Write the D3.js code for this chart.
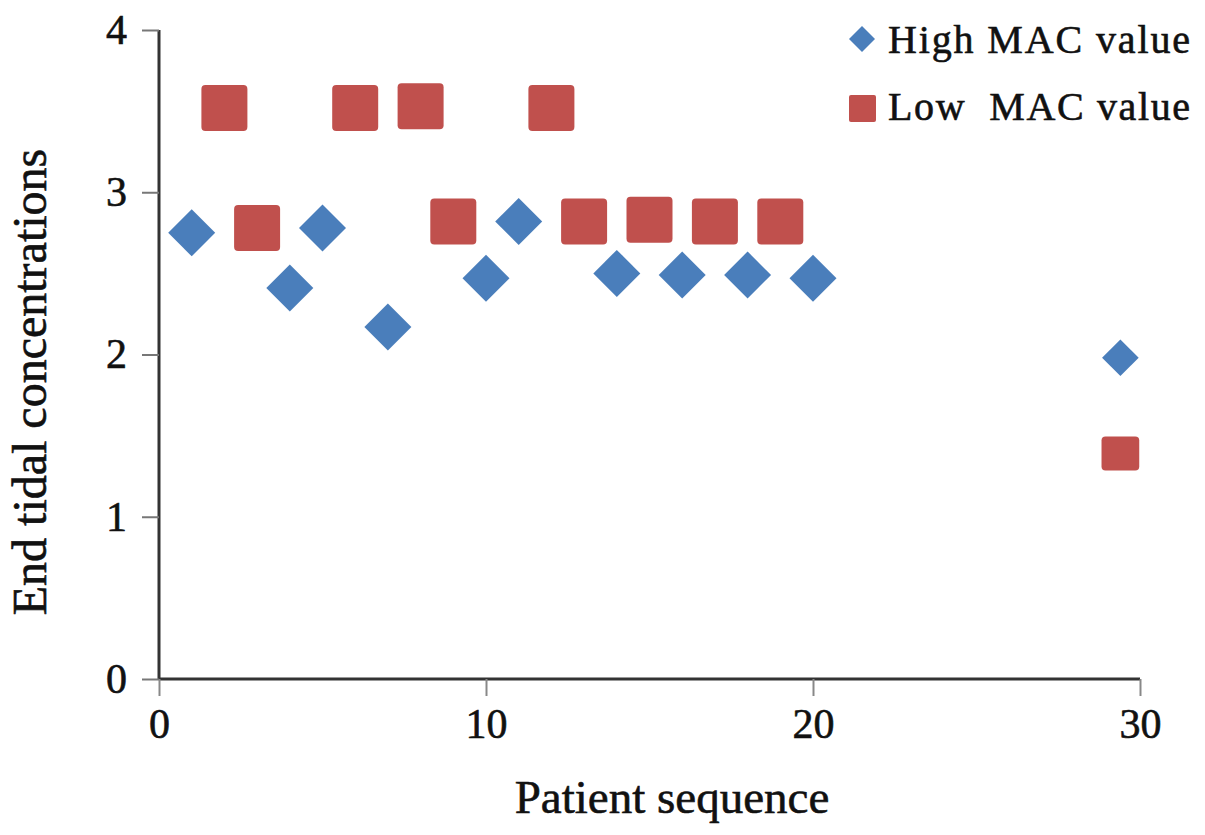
<!DOCTYPE html>
<html>
<head>
<meta charset="utf-8">
<script src="https://cdn.jsdelivr.net/npm/d3@7"></script>
<style>
  body { margin: 0; background: #fff; }
  svg { display: block; font-family: "Liberation Serif", "DejaVu Serif", serif; }
  text { stroke: #111; stroke-width: 0.6px; }
</style>
</head>
<body>
<div id="chart"></div>
<script>
// data
const highPatient = [1, 4, 5, 7, 10, 11, 14, 16, 18, 20, 29.4];
const highMAC = [2.75, 2.41, 2.78, 2.17, 2.47, 2.82, 2.50, 2.49, 2.49, 2.47, 1.98];
const lowPatient = [2, 3, 6, 8, 9, 12, 13, 15, 17, 19, 29.4];
const lowMAC = [3.52, 2.78, 3.52, 3.53, 2.82, 3.52, 2.82, 2.83, 2.82, 2.82, 1.39];
const xTicks = [0, 10, 20, 30];
const yTicks = [0, 1, 2, 3, 4];
const seriesNames = ["High MAC value", "Low  MAC value"];

const width = 1205, height = 835;
const blue = "#4a7ebb", red = "#c0504d";

const svg = d3.select("#chart").append("svg")
    .attr("width", width)
    .attr("height", height);

const x = d3.scaleLinear().domain([0, 30]).range([159, 1140]);
const y = d3.scaleLinear().domain([0, 4]).range([679, 30]);

// axes
const xAxis = svg.append("g")
    .attr("transform", "translate(0," + y(0) + ")")
    .call(d3.axisBottom(x).tickValues(xTicks).tickSize(17).tickPadding(12).tickFormat(d3.format("d")));
xAxis.select(".domain").attr("stroke", "#333").attr("stroke-width", 3);
xAxis.selectAll(".tick line").attr("stroke", "#888").attr("stroke-width", 2);
xAxis.selectAll(".tick text").attr("font-size", 42).attr("fill", "#111")
    .attr("font-family", "Liberation Serif");

const yAxis = svg.append("g")
    .attr("transform", "translate(" + x(0) + ",0)")
    .call(d3.axisLeft(y).tickValues(yTicks).tickSize(17).tickPadding(15).tickFormat(d3.format("d")));
yAxis.select(".domain").attr("stroke", "#333").attr("stroke-width", 3);
yAxis.selectAll(".tick line").attr("stroke", "#777").attr("stroke-width", 2);
yAxis.selectAll(".tick text").attr("font-size", 42).attr("fill", "#111")
    .attr("font-family", "Liberation Serif");
// remove the outer end caps of the domain paths
xAxis.select(".domain").attr("d", "M" + x(0) + ",0H" + x(30));
yAxis.select(".domain").attr("d", "M0," + y(4) + "V" + y(0));

// axis titles
svg.append("text")
    .attr("x", 672).attr("y", 813)
    .attr("text-anchor", "middle")
    .attr("font-size", 47)
    .attr("fill", "#111")
    .text("Patient sequence");
svg.append("text")
    .attr("transform", "translate(46,382) rotate(-90)")
    .attr("text-anchor", "middle")
    .attr("font-size", 48)
    .attr("fill", "#111")
    .text("End tidal concentrations");

// points
const high = highPatient.map((p, i) => ({x: p, v: highMAC[i]}));
const low = lowPatient.map((p, i) => ({x: p, v: lowMAC[i]}));

// the last patient's markers are drawn a bit smaller in the original
function markScale(d) { return d.x > 25 ? 0.82 : 1; }

svg.selectAll(".low")
    .data(low)
    .join("rect")
    .attr("class", "low")
    .attr("x", d => x(d.x) - 23 * markScale(d))
    .attr("y", d => y(d.v) - 23 * markScale(d) * (d.x > 25 ? 0.9 : 1))
    .attr("width", d => 46 * markScale(d))
    .attr("height", d => 46 * markScale(d) * (d.x > 25 ? 0.9 : 1))
    .attr("rx", 4)
    .attr("fill", red);

svg.selectAll(".high")
    .data(high)
    .join("path")
    .attr("class", "high")
    .attr("d", d => {
        const r = 23.5 * markScale(d) * (d.x > 25 ? 0.95 : 1);
        const cx = x(d.x), cy = y(d.v);
        return "M" + cx + "," + (cy - r) + "L" + (cx + r) + "," + cy +
            "L" + cx + "," + (cy + r) + "L" + (cx - r) + "," + cy + "Z";
    })
    .attr("fill", blue);

// legend
const legend = svg.append("g");
legend.append("path")
    .attr("d", "M862,26L875,39L862,52L849,39Z")
    .attr("fill", blue);
legend.append("rect")
    .attr("x", 849).attr("y", 95).attr("width", 27).attr("height", 27).attr("rx", 2)
    .attr("fill", red);
legend.selectAll(".ltext")
    .data(seriesNames)
    .join("text")
    .attr("class", "ltext")
    .attr("x", 888)
    .attr("y", (d, i) => 53 + i * 67)
    .attr("font-size", 40)
    .attr("fill", "#111")
    .attr("textLength", 302)
    .attr("lengthAdjust", "spacing")
    .style("white-space", "pre")
    .text(d => d);
</script>
</body>
</html>
